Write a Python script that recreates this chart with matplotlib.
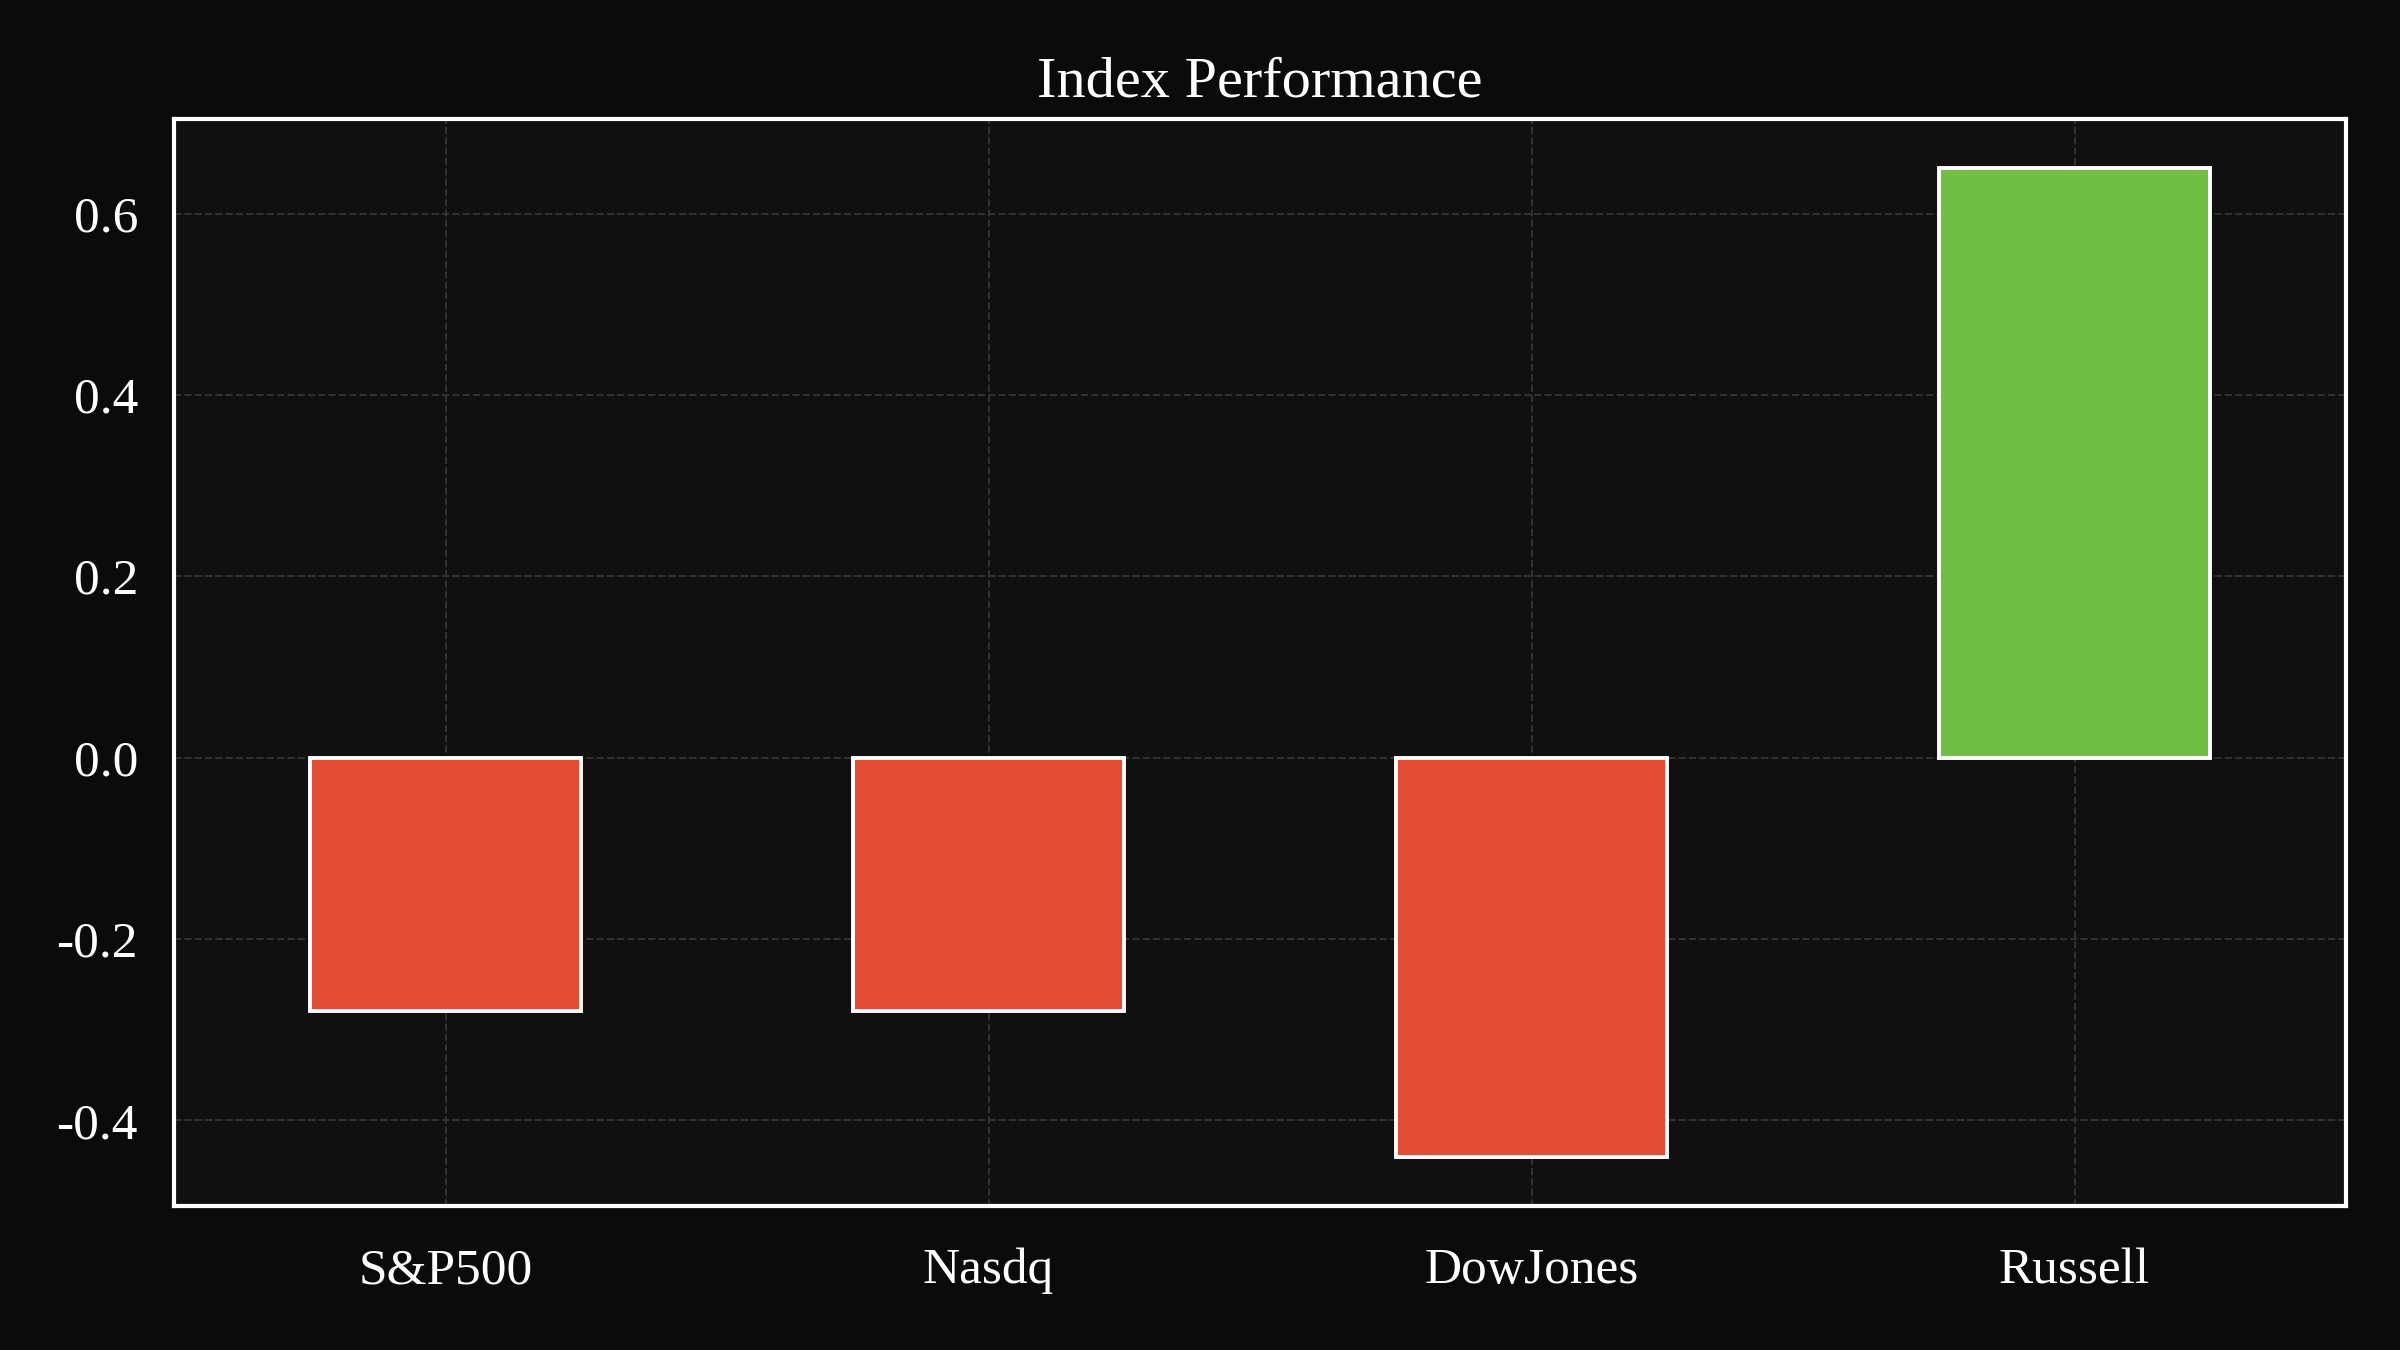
import matplotlib
matplotlib.use("Agg")
import matplotlib.pyplot as plt

# index names and daily change (%)
indices = ["S&P500", "Nasdq", "DowJones", "Russell"]
changes = [-0.28, -0.28, -0.44, 0.65]

UP_COLOR = "#70BE44"
DOWN_COLOR = "#E34D35"

plt.rcParams["font.family"] = ["Liberation Serif", "DejaVu Serif"]
plt.rcParams["axes.unicode_minus"] = False

fig = plt.figure(figsize=(12, 6.75), dpi=200, facecolor="#0b0b0b")
ax = fig.add_axes([0.0725, 0.1067, 0.905, 0.8053])
ax.set_facecolor("#101010")

colors = [UP_COLOR if v >= 0 else DOWN_COLOR for v in changes]
x = range(len(indices))
ax.bar(x, changes, width=0.5, color=colors, edgecolor="white", linewidth=1.4, zorder=3)

ax.set_xlim(-0.5, len(indices) - 0.5)
ax.set_xticks(list(x))
ax.set_xticklabels(indices)
ax.set_yticks([-0.4, -0.2, 0.0, 0.2, 0.4, 0.6])
ax.set_yticklabels([f"{v:.1f}" for v in [-0.4, -0.2, 0.0, 0.2, 0.4, 0.6]])

ax.grid(True, color="#333333", linestyle="--", linewidth=0.7, zorder=0)
ax.tick_params(axis="both", length=0, colors="white", labelsize=18.5)
ax.tick_params(axis="x", pad=15)
ax.tick_params(axis="y", pad=13)

for spine in ax.spines.values():
    spine.set_color("white")
    spine.set_linewidth(1.5)

ax.set_title("Index Performance", color="white", fontsize=21, pad=8)

fig.savefig("out.png", dpi=200, facecolor=fig.get_facecolor())
